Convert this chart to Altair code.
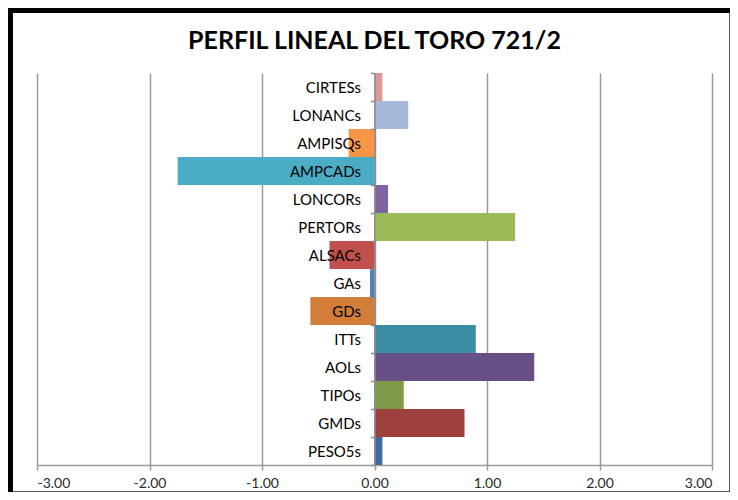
import altair as alt
import pandas as pd

categories = ["CIRTESs", "LONANCs", "AMPISQs", "AMPCADs", "LONCORs", "PERTORs",
              "ALSACs", "GAs", "GDs", "ITTs", "AOLs", "TIPOs", "GMDs", "PESO5s"]
values = [0.07, 0.30, -0.23, -1.75, 0.12, 1.25,
          -0.40, -0.04, -0.57, 0.90, 1.42, 0.26, 0.80, 0.07]
colors = ["#DB9A9A", "#A7B8DA", "#F79646", "#4BACC6", "#8064A2", "#9BBB59",
          "#C0504D", "#4F81BD", "#D07E3A", "#3A8CA3", "#684F86", "#7F9B49",
          "#9E413E", "#3C69A0"]
x_ticks = [-3, -2, -1, 0, 1, 2, 3]

df = pd.DataFrame({"cat": categories, "val": values})

W, H = 675, 392
PAD = {"left": 29, "top": 65, "right": 18, "bottom": 27}
GRID = "#9a9a9a"

bars = alt.Chart(df).mark_bar(size=28).encode(
    x=alt.X("val:Q",
            scale=alt.Scale(domain=[-3, 3], nice=False, zero=False),
            axis=alt.Axis(values=x_ticks, title=None,
                          labelExpr="(datum.value < 0 ? '-' : '') + format(abs(datum.value), '.2f')",
                          grid=True, gridColor=GRID, gridWidth=1.5,
                          domainColor=GRID, domainWidth=1.5,
                          tickColor=GRID, tickWidth=1.5, tickSize=5,
                          labelFont="Lato", labelFontSize=14, labelColor="#2a2a2a",
                          labelPadding=6)),
    y=alt.Y("cat:N", sort=categories,
            scale=alt.Scale(paddingInner=0, paddingOuter=0),
            axis=alt.Axis(title=None, offset=-337.5, zindex=1,
                          domainColor="#8a8a8a", domainWidth=1.5,
                          tickColor="#8a8a8a", tickWidth=1.5, tickSize=4,
                          tickBand="extent",
                          labelFont="Lato", labelFontSize=15, labelColor="#000000",
                          labelPadding=10, grid=False)),
    color=alt.Color("cat:N", scale=alt.Scale(domain=categories, range=colors), legend=None),
)

one = alt.Data(values=[{"a": 1}])
frame_left = alt.Chart(one).mark_rule(color="#000000", strokeWidth=7).encode(
    x=alt.value(-27.5), y=alt.value(-66), y2=alt.value(419))
frame_top = alt.Chart(one).mark_rule(color="#000000", strokeWidth=6).encode(
    x=alt.value(-31), x2=alt.value(693), y=alt.value(-63))
frame_right = alt.Chart(one).mark_rule(color="#555555", strokeWidth=1).encode(
    x=alt.value(692.5), y=alt.value(-60), y2=alt.value(419))
frame_bottom = alt.Chart(one).mark_rule(color="#555555", strokeWidth=1).encode(
    x=alt.value(-24), x2=alt.value(693), y=alt.value(418.5))

chart = alt.layer(bars, frame_left, frame_top, frame_right, frame_bottom).properties(
    width=W, height=H,
    padding=PAD,
    autosize=alt.AutoSizeParams(type="none"),
    title=alt.TitleParams(text="PERFIL LINEAL DEL TORO 721/2", font="Lato",
                          fontSize=25, fontWeight="bold", color="#000000",
                          anchor="middle", frame="group", offset=-50),
).configure_view(stroke=None)

chart.save("out.html", embed_options={"renderer": "svg", "actions": False})
